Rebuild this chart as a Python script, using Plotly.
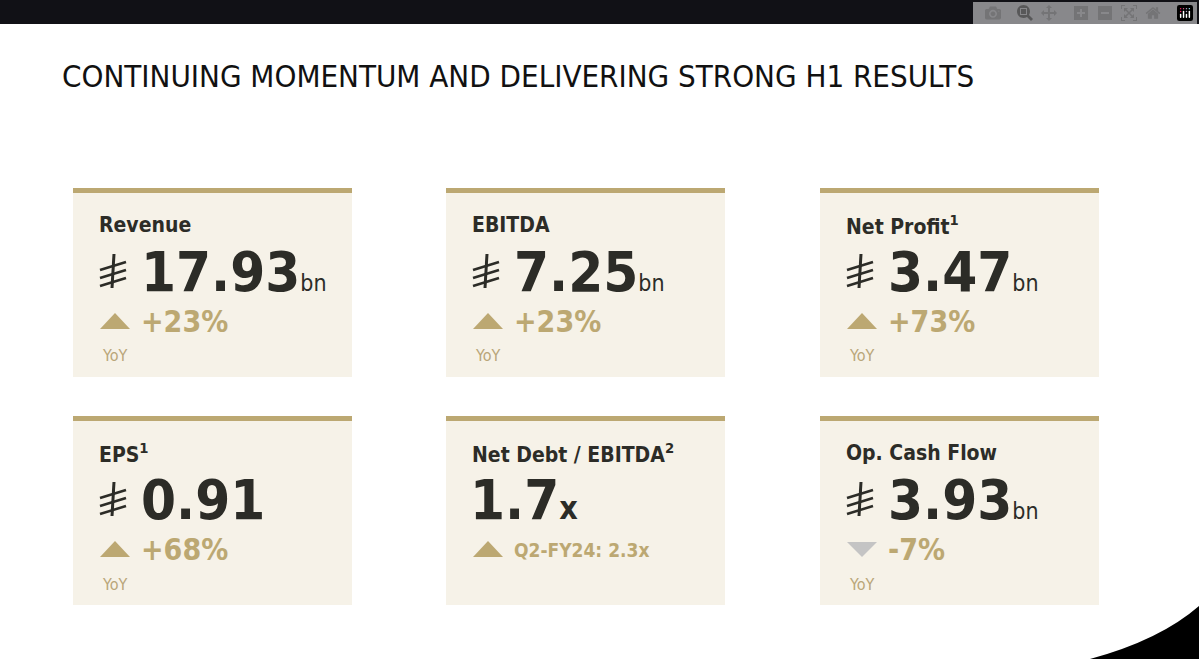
import plotly.graph_objects as go

W, H = 1199, 659

# KPI data
labels = ["Revenue", "EBITDA", "Net Profit<sup>1</sup>", "EPS<sup>1</sup>",
          "Net Debt / EBITDA<sup>2</sup>", "Op. Cash Flow"]
values = ["17.93", "7.25", "3.47", "0.91", "1.7", "3.93"]
units = ["bn", "bn", "bn", "", "x", "bn"]
currency = [True, True, True, True, False, True]
changes = ["+23%", "+23%", "+73%", "+68%", "Q2-FY24: 2.3x", "-7%"]
direction = ["up", "up", "up", "up", "up", "down"]
sublabels = ["YoY", "YoY", "YoY", "YoY", "", "YoY"]

GOLD = "#bca872"
BG = "#f6f2e8"
DARK = "#2c2c27"
FONT = "DejaVu Sans Condensed"

def px(x): return x / W
def py(y): return 1 - y / H

fig = go.Figure()
shapes, ann = [], []

def text(x, y, t, size, color, anchor="middle"):
    ann.append(dict(x=px(x), y=py(y), xref="paper", yref="paper", text=t,
                    xanchor="left", yanchor=anchor, showarrow=False,
                    font=dict(family=FONT, size=size, color=color)))

# top band and corner curve
shapes.append(dict(type="rect", xref="paper", yref="paper", x0=0, x1=1, y0=py(24), y1=1,
                   fillcolor="#111116", line_width=0))
shapes.append(dict(type="path", xref="paper", yref="paper",
                   path=f"M {px(1090)} {py(659)} Q {px(1160)} {py(640)} {px(1199)} {py(606)} L 1 0 Z",
                   fillcolor="black", line_width=0))

text(60, 76, "CONTINUING MOMENTUM AND DELIVERING STRONG H1 RESULTS", 31, "#111")

lefts = [73, 446, 820]
tops = [188, 416]
for i in range(6):
    L = lefts[i % 3]
    T = tops[i // 3]
    R = L + 279
    shapes.append(dict(type="rect", xref="paper", yref="paper", x0=px(L), x1=px(R),
                       y0=py(T + 189), y1=py(T + 5), fillcolor=BG, line_width=0))
    shapes.append(dict(type="rect", xref="paper", yref="paper", x0=px(L), x1=px(R),
                       y0=py(T + 5), y1=py(T), fillcolor=GOLD, line_width=0))
    text(L + 24, T + 37, "<b>" + labels[i] + "</b>", 21, DARK)
    vx = L + 22
    if currency[i]:
        # riyal sign drawn as strokes
        sx, sy = L + 27, T + 66
        shapes.append(dict(type="path", xref="paper", yref="paper",
                           path=f"M {px(sx+14)} {py(sy)} L {px(sx+12)} {py(sy+34)}",
                           line=dict(color=DARK, width=3)))
        for dy in [10, 18, 26]:
            shapes.append(dict(type="path", xref="paper", yref="paper",
                               path=f"M {px(sx)} {py(sy+dy+6)} L {px(sx+26)} {py(sy+dy-2)}",
                               line=dict(color=DARK, width=2.5)))
        vx = L + 66
    unit = units[i]
    if unit == "x":
        ustr = "<span style='font-size:32px'><b>x</b></span>"
    elif unit:
        ustr = "<span style='font-size:23px'>" + unit + "</span>"
    else:
        ustr = ""
    text(vx, T + 83, "<b>" + values[i] + "</b>" + ustr, 56, DARK)
    cy = T + 133
    if direction[i] == "up":
        tri = f"M {px(L+27)} {py(cy+8)} L {px(L+57)} {py(cy+8)} L {px(L+42)} {py(cy-8)} Z"
        tcol = GOLD
    else:
        tri = f"M {px(L+27)} {py(cy-7)} L {px(L+57)} {py(cy-7)} L {px(L+42)} {py(cy+8)} Z"
        tcol = "#c4c4c4"
    shapes.append(dict(type="path", xref="paper", yref="paper", path=tri,
                       fillcolor=tcol, line_width=0))
    big = not changes[i].startswith("Q")
    text(L + 66, cy + (0 if big else 1), "<b>" + changes[i] + "</b>", 30 if big else 19, GOLD)
    if sublabels[i]:
        text(L + 27, T + 168, sublabels[i], 16, "#b9a679")

fig.update_layout(width=W, height=H, margin=dict(l=0, r=0, t=0, b=0),
                  paper_bgcolor="white", plot_bgcolor="white",
                  xaxis=dict(visible=False), yaxis=dict(visible=False),
                  shapes=shapes, annotations=ann, showlegend=False)
fig.write_html("out.html", post_script="document.body.style.margin='0';")
